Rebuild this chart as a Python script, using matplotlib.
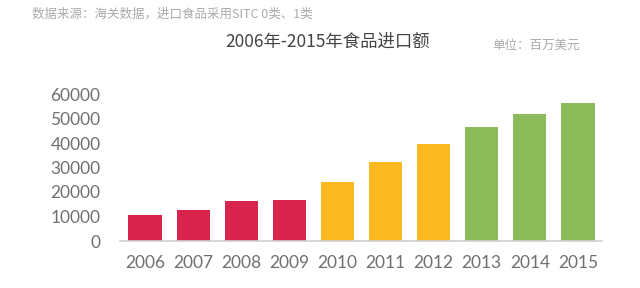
import matplotlib.pyplot as plt

plt.rcParams['font.family'] = ['Lato', 'Noto Sans CJK SC', 'DejaVu Sans']

# Food import values, million USD
years = ['2006', '2007', '2008', '2009', '2010', '2011', '2012', '2013', '2014', '2015']
values = [10700, 12800, 16200, 16900, 24200, 32400, 39700, 46400, 51700, 56400]
bar_colors = ['#D8234D'] * 4 + ['#FBBA22'] * 3 + ['#8DBB5A'] * 3

fig = plt.figure(figsize=(6.4, 2.88), dpi=100)
ax = fig.add_axes([120 / 640, 47 / 288, 482 / 640, 147 / 288])

ax.bar(range(len(years)), values, width=0.69, color=bar_colors)
ax.set_xlim(-0.52, 9.5)
ax.set_ylim(0, 60000)
ax.set_xticks(range(len(years)))
ax.set_xticklabels(years)
ax.set_yticks(range(0, 60001, 10000))

for s in ['top', 'right', 'left']:
    ax.spines[s].set_visible(False)
ax.spines['bottom'].set_color('#d0d0d0')
ax.spines['bottom'].set_linewidth(1.2)
ax.tick_params(length=0, labelsize=12.5, labelcolor='#707070')
ax.tick_params(axis='y', pad=14)
ax.tick_params(axis='x', pad=10)

fig.text(32 / 640, 1 - 14 / 288, '数据来源：海关数据，进口食品采用SITC 0类、1类',
         fontsize=9, color='#aaaaaa', va='center',
         family=['Noto Sans CJK SC', 'DejaVu Sans'])
fig.text(328 / 640, 1 - 42 / 288, '2006年-2015年食品进口额',
         fontsize=12.5, color='#444444', va='center', ha='center',
         family=['Noto Sans CJK SC', 'DejaVu Sans'])
fig.text(536 / 640, 1 - 45 / 288, '单位：百万美元',
         fontsize=9, color='#aaaaaa', va='center', ha='center',
         family=['Noto Sans CJK SC', 'DejaVu Sans'])

fig.savefig('out.png', dpi=100, facecolor='white')
